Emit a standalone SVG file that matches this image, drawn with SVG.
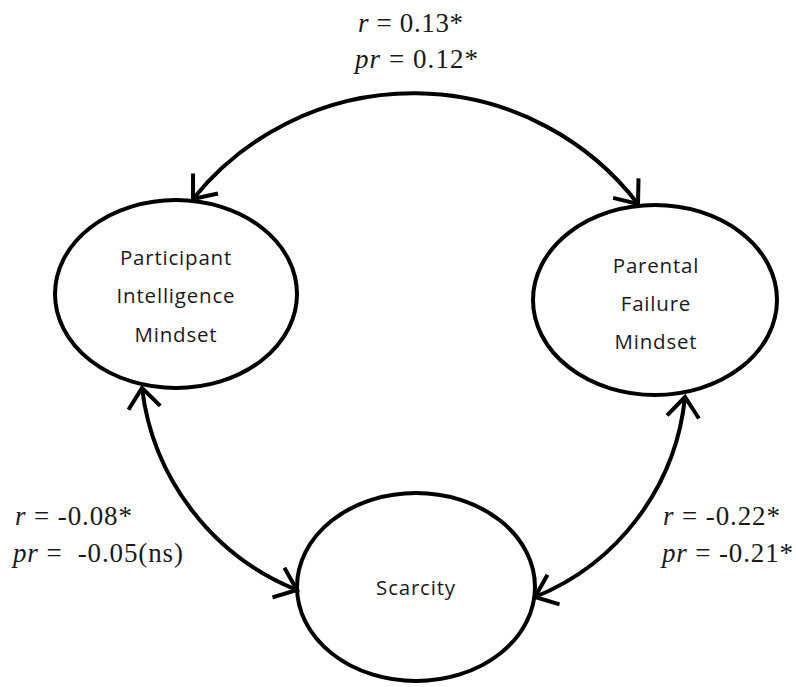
<svg xmlns="http://www.w3.org/2000/svg" width="796" height="687" viewBox="0 0 796 687">
<style>
.node{fill:none;stroke:#000;stroke-width:4}
.lbl{font-family:"Open Sans","Liberation Sans",sans-serif;font-size:20.5px;fill:#1a1a1a;text-anchor:middle;letter-spacing:0.8px}
.stat{font-family:"Liberation Serif","Times New Roman",serif;font-size:27px;fill:#1a1a1a}
.stat .i{font-style:italic}
.conn{fill:none;stroke:#000;stroke-width:4;marker-start:url(#ah);marker-end:url(#ah)}
</style>
<defs>
<marker id="ah" markerUnits="userSpaceOnUse" viewBox="-24 -20 28 40" refX="0" refY="0" markerWidth="28" markerHeight="40" orient="auto-start-reverse">
<path d="M-20,-16 L0,0 L-20,16" fill="none" stroke="#000" stroke-width="4"/>
</marker>
</defs>
<g id="connectors">
<path class="conn" d="M193,199 A283,283 0 0 1 638,204"/>
<path class="conn" d="M142,388 A250,250 0 0 0 297,590"/>
<path class="conn" d="M685,397 A242,242 0 0 1 535,597"/>
</g>
<g id="node-participant">
<ellipse class="node" cx="176" cy="294" rx="121" ry="94"/>
<text class="lbl" x="176" y="265">Participant</text>
<text class="lbl" x="176" y="303">Intelligence</text>
<text class="lbl" x="176" y="342">Mindset</text>
</g>
<g id="node-parental">
<ellipse class="node" cx="655" cy="300" rx="122" ry="95"/>
<text class="lbl" x="656" y="273">Parental</text>
<text class="lbl" x="656" y="311">Failure</text>
<text class="lbl" x="656" y="349">Mindset</text>
</g>
<g id="node-scarcity">
<ellipse class="node" cx="416" cy="587" rx="119" ry="94"/>
<text class="lbl" x="416" y="595">Scarcity</text>
</g>
<g id="labels">
<text class="stat" x="358" y="32" textLength="105" lengthAdjust="spacing"><tspan class="i">r</tspan> = 0.13*</text>
<text class="stat" x="355" y="68" textLength="123" lengthAdjust="spacing"><tspan class="i">pr</tspan> = 0.12*</text>
<text class="stat" x="15" y="525" textLength="117" lengthAdjust="spacing"><tspan class="i">r</tspan> = -0.08*</text>
<text class="stat" x="13" y="562" textLength="170" lengthAdjust="spacing" xml:space="preserve"><tspan class="i">pr</tspan> =  -0.05(ns)</text>
<text class="stat" x="663" y="525" textLength="117" lengthAdjust="spacing"><tspan class="i">r</tspan> = -0.22*</text>
<text class="stat" x="662" y="562" textLength="131" lengthAdjust="spacing"><tspan class="i">pr</tspan> = -0.21*</text>
</g>
</svg>
